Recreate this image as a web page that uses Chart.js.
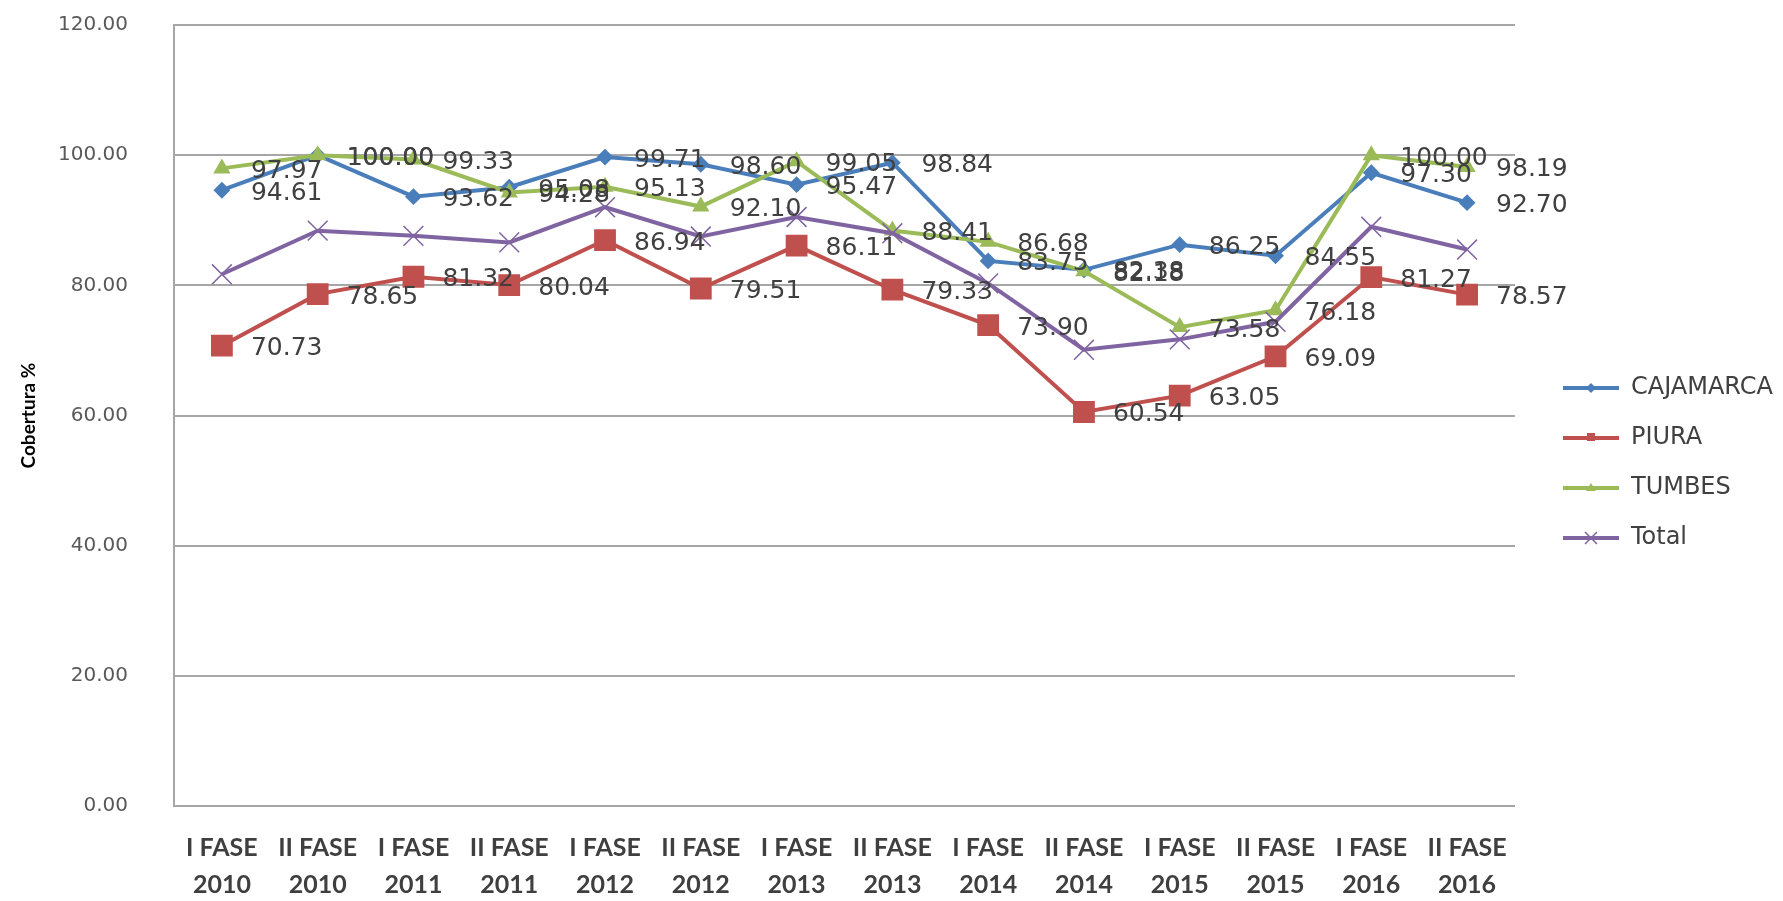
<!DOCTYPE html>
<html>
<head>
<meta charset="utf-8">
<script src="https://cdn.jsdelivr.net/npm/chart.js@4/dist/chart.umd.min.js"></script>
<style>
  html, body { margin: 0; padding: 0; background: #fff; }
  #wrap { width: 1783px; height: 901px; }
</style>
</head>
<body>
<div id="wrap"><canvas id="chart" width="1783" height="901"></canvas></div>
<script>
const phases = ['I FASE', 'II FASE', 'I FASE', 'II FASE', 'I FASE', 'II FASE', 'I FASE', 'II FASE', 'I FASE', 'II FASE', 'I FASE', 'II FASE', 'I FASE', 'II FASE'];
const years = ['2010', '2010', '2011', '2011', '2012', '2012', '2013', '2013', '2014', '2014', '2015', '2015', '2016', '2016'];

const cajamarca = [94.61, 100.00, 93.62, 95.08, 99.71, 98.60, 95.47, 98.84, 83.75, 82.38, 86.25, 84.55, 97.30, 92.70];
const piura = [70.73, 78.65, 81.32, 80.04, 86.94, 79.51, 86.11, 79.33, 73.90, 60.54, 63.05, 69.09, 81.27, 78.57];
const tumbes = [97.97, 100.00, 99.33, 94.28, 95.13, 92.10, 99.05, 88.41, 86.68, 82.18, 73.58, 76.18, 100.00, 98.19];
const total = [81.7, 88.4, 87.6, 86.6, 92.0, 87.5, 90.5, 88.0, 80.3, 70.1, 71.7, 74.4, 89.0, 85.5];

const yTicks = [0, 20, 40, 60, 80, 100, 120];

// value labels to the right of each point (Excel style)
const valueLabels = {
  id: 'valueLabels',
  afterDatasetsDraw(chart) {
    const ctx = chart.ctx;
    ctx.save();
    ctx.font = '25px "DejaVu Sans"';
    ctx.fillStyle = '#404040';
    ctx.textBaseline = 'middle';
    ctx.textAlign = 'left';
    chart.data.datasets.forEach((ds, i) => {
      if (!ds.showValues) return;
      chart.getDatasetMeta(i).data.forEach((pt, j) => {
        ctx.fillText(ds.data[j].toFixed(2), pt.x + 29, pt.y + 3);
      });
    });
    ctx.restore();
  }
};

// little line + marker picture for the legend
function legendIcon(ds) {
  const c = document.createElement('canvas');
  c.width = 78; c.height = 24;
  const g = c.getContext('2d');
  g.strokeStyle = ds.borderColor;
  g.fillStyle = ds.borderColor;
  g.lineWidth = 4;
  g.beginPath(); g.moveTo(22, 12); g.lineTo(78, 12); g.stroke();
  const cx = 50, cy = 12;
  g.lineWidth = 1.5;
  g.beginPath();
  if (ds.pointStyle === 'rectRot') {
    g.moveTo(cx, cy - 5); g.lineTo(cx + 5, cy); g.lineTo(cx, cy + 5); g.lineTo(cx - 5, cy); g.closePath(); g.fill();
  } else if (ds.pointStyle === 'rect') {
    g.rect(cx - 4, cy - 5, 8, 8); g.fill();
  } else if (ds.pointStyle === 'triangle') {
    g.moveTo(cx, cy - 5); g.lineTo(cx + 5, cy + 3); g.lineTo(cx - 5, cy + 3); g.closePath(); g.fill();
  } else {
    g.moveTo(cx - 6, cy - 6); g.lineTo(cx + 6, cy + 6);
    g.moveTo(cx + 6, cy - 6); g.lineTo(cx - 6, cy + 6); g.stroke();
  }
  return c;
}

function series(label, data, color, style, radius, order, showValues) {
  return {
    label, data, order, showValues,
    borderColor: color,
    backgroundColor: color,
    pointBackgroundColor: color,
    pointBorderColor: color,
    borderWidth: 4,
    tension: 0,
    pointStyle: style,
    pointRadius: radius,
    pointBorderWidth: style === 'crossRot' ? 1.5 : 2
  };
}

new Chart(document.getElementById('chart'), {
  type: 'line',
  data: {
    labels: phases.map((p, i) => [p, years[i]]),
    datasets: [
      series('CAJAMARCA', cajamarca, '#4A7EBB', 'rectRot', 7, 4, true),
      series('PIURA', piura, '#C0504D', 'rect', 14, 3, true),
      series('TUMBES', tumbes, '#9BBB59', 'triangle', 8, 2, true),
      series('Total', total, '#8064A2', 'crossRot', 14, 1, false)
    ]
  },
  options: {
    responsive: false,
    animation: false,
    layout: { padding: { top: 25, left: 0, right: 0, bottom: 0 } },
    plugins: {
      tooltip: { enabled: false },
      legend: {
        position: 'right',
        labels: {
          usePointStyle: true,
          pointStyleWidth: 78,
          padding: 26,
          color: '#404040',
          font: { family: '"DejaVu Sans"', size: 24 },
          generateLabels(chart) {
            return chart.data.datasets.map((ds, i) => ({
              text: ds.label,
              pointStyle: legendIcon(ds),
              fillStyle: ds.borderColor,
              strokeStyle: ds.borderColor,
              lineWidth: 0,
              hidden: false,
              datasetIndex: i,
              fontColor: '#404040'
            }));
          }
        }
      }
    },
    scales: {
      x: {
        offset: true,
        grid: { display: false },
        border: { display: true, color: '#a6a6a6', width: 2 },
        afterFit(scale) { scale.height = 95; },
        ticks: {
          autoSkip: false,
          maxRotation: 0,
          padding: 15,
          color: '#3f3f3f',
          font: { family: 'Lato', size: 25, weight: 'bold', lineHeight: 1.5 }
        }
      },
      y: {
        min: yTicks[0],
        max: yTicks[yTicks.length - 1],
        afterBuildTicks(scale) { scale.ticks = yTicks.map(v => ({ value: v })); },
        afterFit(scale) {
          scale.width = 174;
          scale.paddingTop = 12;
          scale.paddingBottom = 12;
        },
        grid: { color: '#a6a6a6', lineWidth: 2, drawTicks: false },
        border: { display: true, color: '#a6a6a6', width: 2 },
        ticks: {
          padding: 46,
          color: '#595959',
          font: { family: '"DejaVu Sans"', size: 20 },
          callback: v => Number(v).toFixed(2)
        },
        title: {
          display: true,
          text: 'Cobertura %',
          color: '#000',
          padding: 17,
          font: { family: 'Lato', size: 19, weight: 'bold' }
        }
      }
    }
  },
  plugins: [valueLabels]
});
</script>
</body>
</html>
